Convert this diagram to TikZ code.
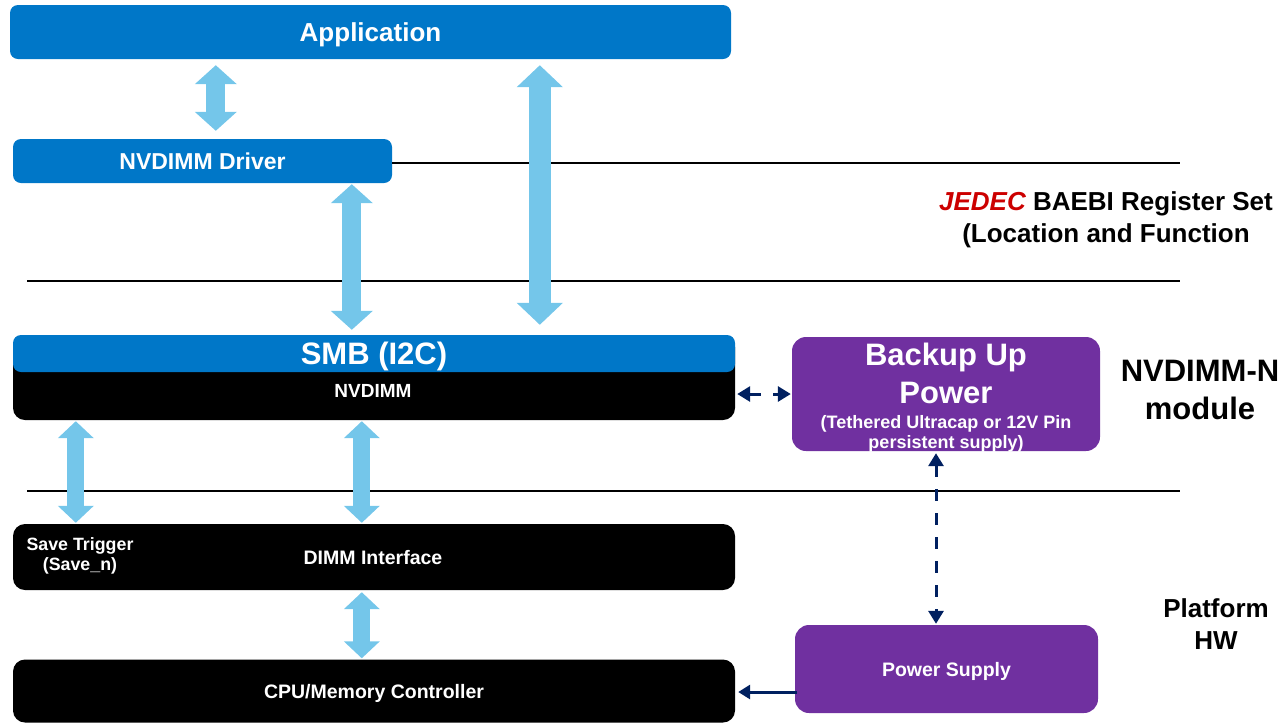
\documentclass[tikz,border=0pt]{standalone}
\usepackage{fontspec}
\setmainfont{Liberation Sans}
\usetikzlibrary{arrows.meta}
\definecolor{appblue}{RGB}{0,119,200}
\definecolor{lblue}{RGB}{116,198,234}
\definecolor{purp}{RGB}{112,48,160}
\definecolor{navy}{RGB}{0,32,96}
\definecolor{jred}{RGB}{204,0,0}
\newcommand{\fs}[1]{\fontsize{#1}{#1}\selectfont}
\begin{document}
\begin{tikzpicture}[x=1pt,y=-1pt,
  box/.style={rectangle, inner sep=0pt, text=white, font=\bfseries, text depth=0pt},
  bluebox/.style={box, fill=appblue, rounded corners=8pt},
  blackbox/.style={box, fill=black, rounded corners=12pt},
  purbox/.style={box, fill=purp, rounded corners=14pt},
  lbl/.style={inner sep=0pt, font=\bfseries},
  wlbl/.style={lbl, text=white},
  layerline/.style={draw=black, line width=2pt},
  bigarrow/.style={draw=lblue, line width=19pt,
    {Triangle[length=19pt,width=41pt]}-{Triangle[length=19pt,width=41pt]}},
  widearrow/.style={draw=lblue, line width=22pt,
    {Triangle[length=22pt,width=45pt]}-{Triangle[length=22pt,width=45pt]}},
  thinarrow/.style={draw=lblue, line width=17pt,
    {Triangle[length=17pt,width=35pt]}-{Triangle[length=17pt,width=35pt]}},
  dasharrow/.style={draw=navy, line width=3pt, dash pattern=on 12pt off 12pt,
    {Triangle[length=13pt,width=15pt]}-{Triangle[length=13pt,width=15pt]}},
  navyarrow/.style={draw=navy, line width=3pt, -{Triangle[length=12pt,width=14pt]}}
]
\useasboundingbox (0,0) rectangle (1282,724);

% boxes
\node[bluebox, minimum width=721pt, minimum height=54pt, font=\bfseries\fs{26}] (app) at (370.5,32) {Application};
\node[bluebox, minimum width=379pt, minimum height=44pt, font=\bfseries\fs{23}] (drv) at (202.5,161) {NVDIMM Driver};
\node[blackbox, minimum width=722pt, minimum height=85pt] (nv) at (374,377.5) {};
\node[bluebox, minimum width=722pt, minimum height=37pt, font=\bfseries\fs{31}] (smb) at (374,353.5) {SMB (I2C)};
\node[wlbl, font=\bfseries\fs{19}] (nvl) at (373,391) {NVDIMM};
\node[blackbox, minimum width=722pt, minimum height=66pt, font=\bfseries\fs{19.5}] (dimm) at (374,557) {\hspace*{-2pt}DIMM Interface};
\node[wlbl, align=center, font=\bfseries\fontsize{17.8}{20}\selectfont] (save) at (80,556) {Save Trigger\\(Save\_n)};
\node[blackbox, minimum width=722pt, minimum height=63pt, font=\bfseries\fs{19.5}] (cpu) at (374,691) {CPU/Memory Controller};
\node[purbox, minimum width=308pt, minimum height=114pt] (bup) at (946,394) {};
\node[wlbl, anchor=base, font=\bfseries\fs{31}] (bup1) at (946,365) {Backup Up};
\node[wlbl, anchor=base, font=\bfseries\fs{31}] (bup2) at (946,403) {Power};
\node[wlbl, anchor=base, font=\bfseries\fs{18}] (bup3) at (946,428) {(Tethered Ultracap or 12V Pin};
\node[wlbl, anchor=base, font=\bfseries\fs{18}] (bup4) at (946,448) {persistent supply)};
\node[purbox, minimum width=303pt, minimum height=88pt, font=\bfseries\fs{19.5}] (ps) at (946.5,669) {Power Supply};

% side labels
\node[lbl, anchor=base, font=\bfseries\fs{26}] (jed1) at (1106,210) {{\color{jred}\itshape JEDEC} BAEBI Register Set};
\node[lbl, anchor=base, font=\bfseries\fs{26}] (jed2) at (1106,242) {(Location and Function};
\node[lbl, anchor=base, font=\bfseries\fs{31}] (mod1) at (1200,381) {NVDIMM-N};
\node[lbl, anchor=base, font=\bfseries\fs{31}] (mod2) at (1200,419) {module};
\node[lbl, anchor=base, font=\bfseries\fs{26}] (plat1) at (1216,617) {Platform};
\node[lbl, anchor=base, font=\bfseries\fs{26}] (plat2) at (1216,649) {HW};

% layer lines
\coordinate (l1e) at (1180,163);
\coordinate (l2s) at (27,281);
\coordinate (l2e) at (1180,281);
\coordinate (l3s) at (27,491);
\coordinate (l3e) at (1180,491);
\draw[layerline] (drv.east |- l1e) -- (l1e);
\draw[layerline] (l2s) -- (l2e);
\draw[layerline] (l3s) -- (l3e);

% block arrows
\draw[bigarrow, shorten <=6pt, shorten >=8pt] ([xshift=206pt]app.south west) -- ([xshift=203pt]drv.north west);
\draw[bigarrow, shorten <=1pt, shorten >=5pt] ([xshift=339pt]drv.south west) -- ([xshift=339pt]smb.north west);
\draw[widearrow, shorten <=6pt, shorten >=10pt] ([xshift=530pt]app.south west) -- ([xshift=527pt]smb.north west);
\draw[thinarrow, shorten <=1pt, shorten >=1pt] ([xshift=63pt]nv.south west) -- ([xshift=63pt]dimm.north west);
\draw[thinarrow, shorten <=1pt, shorten >=1pt] ([xshift=349pt]nv.south west) -- ([xshift=349pt]dimm.north west);
\draw[thinarrow, shorten <=2pt, shorten >=1pt] ([xshift=349pt]dimm.south west) -- ([xshift=349pt]cpu.north west);

% navy connectors
\draw[dasharrow, shorten <=2pt, shorten >=1pt] (bup.west -| nv.east) -- (bup.west);
\draw[dasharrow, shorten <=2pt, shorten >=1pt] ([xshift=-10pt]bup.south) -- ([xshift=-10.5pt]ps.north);
\coordinate (psout) at ([xshift=2pt,yshift=-23pt]ps.west);
\draw[navyarrow, shorten >=3pt] (psout) -- (psout -| cpu.east);
\end{tikzpicture}
\end{document}
